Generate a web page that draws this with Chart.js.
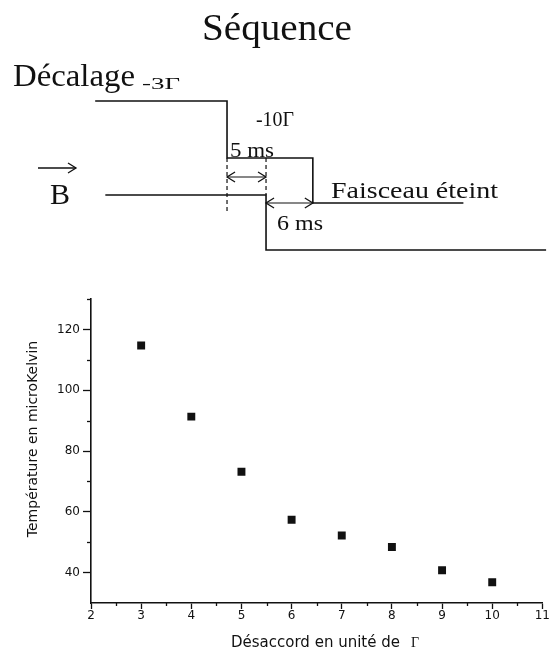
<!DOCTYPE html>
<html>
<head>
<meta charset="utf-8">
<script src="https://cdn.jsdelivr.net/npm/chart.js@4"></script>
<style>
  html, body { margin: 0; padding: 0; background: #fff; }
  #wrap { position: relative; width: 550px; height: 654px; }
  #seqChart { position: absolute; left: 0; top: 0; }
  #tempChart { position: absolute; left: 0; top: 280px; }
</style>
</head>
<body>
<div id="wrap">
  <canvas id="seqChart" width="550" height="280"></canvas>
  <canvas id="tempChart" width="550" height="374"></canvas>
</div>
<script>
// Measured temperatures vs detuning (units of Gamma)
const detunings = [3, 4, 5, 6, 7, 8, 9, 10];
const temperatures = [114.7, 91.3, 73.2, 57.4, 52.2, 48.4, 40.8, 36.8];
const yTickValues = [40, 60, 80, 100, 120];
const yMinorTicks = [50, 70, 90, 110, 130];
const xMinorTicks = [2.5, 3.5, 4.5, 5.5, 6.5, 7.5, 8.5, 9.5, 10.5];

// Timing sequence (time in ms, trace levels are schematic)
const detuneTimes = [-16.9, 0, 0, 11, 11, 30.3];
const detuneLevels = [17.9, 17.9, 12.2, 12.2, 7.7, 7.7];
const fieldTimes = [-15.6, 5, 5, 40.9];
const fieldLevels = [8.5, 8.5, 3.0, 3.0];
const markerTimes = [0, 5];
const markerTops = [12.2, 12.2];
const markerBottoms = [6.8, 8.5];
const arrowStarts = [0, 5];
const arrowEnds = [5, 11];
const arrowLevels = [10.3, 7.7];

const INK = '#111';
const SERIF = '"Liberation Serif", "Times New Roman", serif';
const SANS = '"DejaVu Sans", Arial, sans-serif';

const toPoints = (xs, ys) => xs.map((x, i) => ({ x: x, y: ys[i] }));

// draws text stretched horizontally to the width seen in the scan
function drawText(ctx, text, x, y, size, width, align) {
    ctx.font = size + 'px ' + SERIF;
    const w = ctx.measureText(text).width;
    const sx = width ? width / w : 1;
    ctx.save();
    ctx.translate(x, y);
    ctx.scale(sx, 1);
    ctx.textAlign = 'left';
    ctx.textBaseline = 'alphabetic';
    ctx.fillStyle = INK;
    ctx.fillText(text, align === 'center' ? -w / 2 : 0, 0);
    ctx.restore();
}

function arrowHead(ctx, x, y, dir) {
    ctx.beginPath();
    ctx.moveTo(x - dir * 8, y - 5);
    ctx.lineTo(x, y);
    ctx.lineTo(x - dir * 8, y + 5);
    ctx.stroke();
}

const traceStyle = { borderColor: INK, borderWidth: 1.6, pointRadius: 0, tension: 0, fill: false };

const seqDatasets = [
    Object.assign({ data: toPoints(detuneTimes, detuneLevels) }, traceStyle),
    Object.assign({ data: toPoints(fieldTimes, fieldLevels) }, traceStyle)
];
markerTimes.forEach((t, i) => {
    seqDatasets.push(Object.assign({}, traceStyle, {
        data: [{ x: t, y: markerTops[i] }, { x: t, y: markerBottoms[i] }],
        borderDash: [4, 3], borderWidth: 1.2
    }));
});
arrowStarts.forEach((t, i) => {
    seqDatasets.push(Object.assign({}, traceStyle, {
        data: [{ x: t, y: arrowLevels[i] }, { x: arrowEnds[i], y: arrowLevels[i] }],
        borderWidth: 1.2
    }));
});

const seqLabels = {
    id: 'seqLabels',
    afterDraw(chart) {
        const ctx = chart.ctx;
        const sx = chart.scales.x, sy = chart.scales.y;
        ctx.save();
        ctx.strokeStyle = INK;
        ctx.lineWidth = 1.3;
        arrowStarts.forEach((t, i) => {
            const y = sy.getPixelForValue(arrowLevels[i]);
            arrowHead(ctx, sx.getPixelForValue(t), y, -1);
            arrowHead(ctx, sx.getPixelForValue(arrowEnds[i]), y, 1);
        });
        // vector arrow over B
        ctx.beginPath();
        ctx.moveTo(38, 168);
        ctx.lineTo(76, 168);
        ctx.stroke();
        arrowHead(ctx, 76, 168, 1);

        drawText(ctx, 'Séquence', 277, 40, 38, 150, 'center');
        drawText(ctx, 'Décalage', 13, 86, 32, 122);
        drawText(ctx, '-3Γ', 142, 89, 17, 38);
        drawText(ctx, '-10Γ', 256, 126, 20, 38);
        drawText(ctx, '5 ms', 230, 157, 20, 44);
        drawText(ctx, '6 ms', 277, 230, 21, 46);
        drawText(ctx, 'Faisceau éteint', 331, 198, 23, 167);
        drawText(ctx, 'B', 50, 204, 29, 20);
        ctx.restore();
    }
};

new Chart(document.getElementById('seqChart'), {
    type: 'line',
    data: { datasets: seqDatasets },
    options: {
        responsive: false,
        animation: false,
        layout: { padding: 0 },
        plugins: { legend: { display: false }, tooltip: { enabled: false } },
        scales: {
            x: { type: 'linear', min: -29.1, max: 41.4, display: false },
            y: { type: 'linear', min: 0, max: 28, display: false }
        }
    },
    plugins: [seqLabels]
});

// minor ticks and axis titles for the temperature plot
const tempExtras = {
    id: 'tempExtras',
    afterDraw(chart) {
        const ctx = chart.ctx;
        const sx = chart.scales.x, sy = chart.scales.y;
        ctx.save();
        ctx.strokeStyle = INK;
        ctx.lineWidth = 1.3;
        yMinorTicks.forEach(v => {
            const p = Math.round(sy.getPixelForValue(v)) + 0.5;
            ctx.beginPath();
            ctx.moveTo(sy.right - 4, p);
            ctx.lineTo(sy.right, p);
            ctx.stroke();
        });
        xMinorTicks.forEach(v => {
            const p = Math.round(sx.getPixelForValue(v)) + 0.5;
            ctx.beginPath();
            ctx.moveTo(p, sx.top);
            ctx.lineTo(p, sx.top + 3);
            ctx.stroke();
        });

        ctx.fillStyle = INK;
        ctx.font = '15px ' + SANS;
        ctx.textBaseline = 'alphabetic';
        ctx.textAlign = 'left';
        ctx.fillText('Désaccord en unité de', 231, 367);
        ctx.font = '14px ' + SERIF;
        ctx.fillText('Γ', 411, 367);

        ctx.translate(37, 159);
        ctx.rotate(-Math.PI / 2);
        ctx.font = '14px ' + SANS;
        ctx.textAlign = 'center';
        ctx.fillText('Température en microKelvin', 0, 0);
        ctx.restore();
    }
};

new Chart(document.getElementById('tempChart'), {
    type: 'scatter',
    data: {
        datasets: [{
            data: toPoints(detunings, temperatures),
            pointStyle: 'rect',
            pointRadius: 5.6,
            borderWidth: 0,
            backgroundColor: INK
        }]
    },
    options: {
        responsive: false,
        animation: false,
        layout: { padding: { top: 19, right: 7, left: 0, bottom: 0 } },
        plugins: { legend: { display: false }, tooltip: { enabled: false } },
        scales: {
            x: {
                type: 'linear',
                min: 2,
                max: 11,
                afterFit: (scale) => { scale.height = 51; },
                ticks: { stepSize: 1, color: INK, padding: 0, font: { family: SANS, size: 12 } },
                grid: { drawOnChartArea: false, tickLength: 6, tickColor: INK, tickWidth: 1.3 },
                border: { color: INK, width: 1.6 }
            },
            y: {
                type: 'linear',
                min: 30,
                max: 130,
                afterFit: (scale) => { scale.width = 91; },
                afterBuildTicks: (scale) => { scale.ticks = yTickValues.map(v => ({ value: v })); },
                ticks: { color: INK, padding: 3, font: { family: SANS, size: 12 } },
                grid: { drawOnChartArea: false, tickLength: 8, tickColor: INK, tickWidth: 1.3 },
                border: { color: INK, width: 1.6 }
            }
        }
    },
    plugins: [tempExtras]
});
</script>
</body>
</html>
